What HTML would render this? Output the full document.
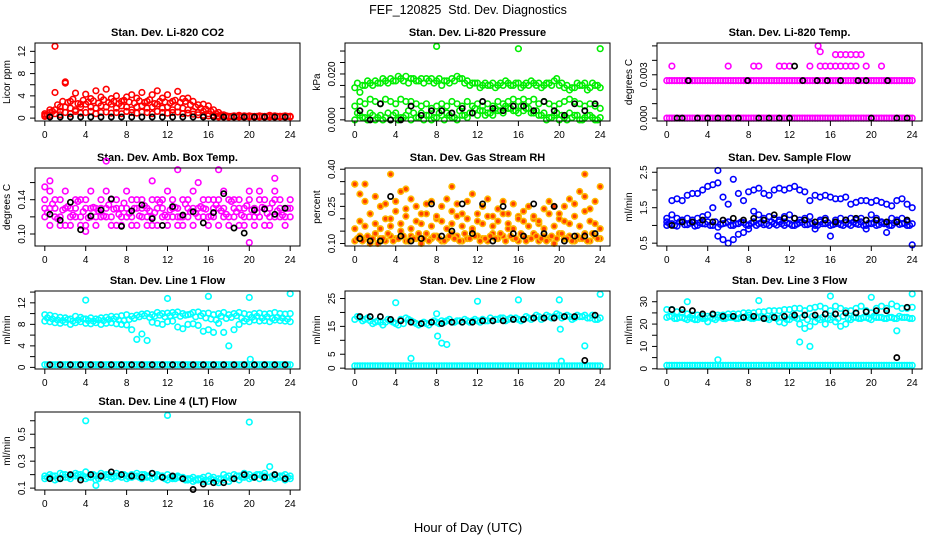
<!DOCTYPE html>
<html>
<head>
<meta charset="utf-8">
<style>
  html,body{margin:0;padding:0;background:#fff;}
  svg{display:block;font-family:"Liberation Sans",Arial,sans-serif;}
</style>
</head>
<body>
<svg id="chart" width="936" height="540" viewBox="0 0 936 540">
  <text x="468" y="14" text-anchor="middle" font-size="12.5">FEF_120825&#160; Std. Dev. Diagnostics</text>
  <text x="468" y="532" text-anchor="middle" font-size="13">Hour of Day (UTC)</text>
</svg>
<script>
// ---------- data ----------
const hours = [0,0.5,1,1.5,2,2.5,3,3.5,4,4.5,5,5.5,6,6.5,7,7.5,8,8.5,9,9.5,10,10.5,11,11.5,12,12.5,13,13.5,14,14.5,15,15.5,16,16.5,17,17.5,18,18.5,19,19.5,20,20.5,21,21.5,22,22.5,23,23.5,24];
const hoursB = [0.25,0.75,1.25,1.75,2.25,2.75,3.25,3.75,4.25,4.75,5.25,5.75,6.25,6.75,7.25,7.75,8.25,8.75,9.25,9.75,10.25,10.75,11.25,11.75,12.25,12.75,13.25,13.75,14.25,14.75,15.25,15.75,16.25,16.75,17.25,17.75,18.25,18.75,19.25,19.75,20.25,20.75,21.25,21.75,22.25,22.75,23.25,23.75];
const blackHours = [0.5,1.5,2.5,3.5,4.5,5.5,6.5,7.5,8.5,9.5,10.5,11.5,12.5,13.5,14.5,15.5,16.5,17.5,18.5,19.5,20.5,21.5,22.5,23.5];

// CO2
const co2A = [0.8,1.5,4.6,2,6.3,3,4.5,2.5,4.3,3.5,4.9,3.8,5.2,3.5,4,3,3.8,4.2,3.6,4.6,3,4.2,4.9,3.6,4.2,3,4.8,3.5,3.6,3,2.4,2.5,2.2,1.5,1,0.6,0.3,0.4,0.5,0.4,0.4,0.3,0.4,0.3,0.5,0.4,0.3,0.4,0.3];
const co2B = [0.5,1,1.5,1.2,2,1.8,1.5,2,2.5,2,1.8,2.2,2,2.5,1.8,2.2,2,1.5,2,2.2,1.8,2,2.5,1.8,2,1.5,2,1.8,1.5,1.2,1,1.2,0.8,0.5,0.4,0.3,0.2,0.3,0.3,0.2,0.3,0.2,0.3,0.2,0.3,0.2,0.3,0.2,0.3];
const co2C = [0.3,0.5,0.8,0.6,1,0.8,1.2,0.9,1,1.2,0.8,1,1.1,0.9,1,0.8,1.2,1,0.9,1.1,1,0.8,1.2,1,0.9,1,1.1,0.8,0.9,0.7,0.6,0.5,0.4,0.3,0.2,0.2,0.2,0.2,0.2,0.2,0.2,0.2,0.2,0.2,0.2,0.2,0.2,0.2,0.2];
const co2D = [0.6,1.2,2.4,3,2.8,3.4,2.6,3.2,2.9,3.1,2.7,3.3,2.8,3.0,2.6,3.2,2.9,2.7,3.1,2.8,3.3,2.6,3.0,2.9,2.7,3.2,2.8,3.0,2.4,2.0,1.8,1.6,1.2,0.8,0.6,0.4,0.3,0.3,0.3,0.3,0.3,0.3,0.3,0.3,0.3,0.3,0.3,0.3];
const co2OutH = [1,2];
const co2Out = [12.9,6.5];
const co2Black = [0.2,0.2,0.2,0.2,0.2,0.2,0.2,0.2,0.2,0.2,0.2,0.2,0.2,0.2,0.2,0.2,0.2,0.2,0.2,0.2,0.2,0.2,0.2,0.2];

// Pressure
const presA = [0.014,0.012,0.015,0.016,0.017,0.016,0.017,0.018,0.017,0.018,0.019,0.018,0.017,0.018,0.018,0.018,0.017,0.015,0.017,0.018,0.019,0.018,0.017,0.016,0.016,0.015,0.015,0.016,0.015,0.015,0.016,0.015,0.016,0.015,0.015,0.016,0.016,0.015,0.016,0.017,0.015,0.014,0.013,0.014,0.015,0.016,0.014,0.015,0.014];
const presB = [0.006,0.008,0.007,0.009,0.008,0.007,0.009,0.008,0.007,0.009,0.008,0.008,0.007,0.006,0.007,0.005,0.006,0.007,0.006,0.008,0.007,0.006,0.008,0.006,0.007,0.006,0.007,0.006,0.008,0.007,0.008,0.009,0.008,0.009,0.008,0.009,0.007,0.008,0.007,0.006,0.007,0.008,0.009,0.008,0.007,0.006,0.007,0.006,0.005];
const presC = [0.000,0.002,0.001,0.003,0.000,0.002,0.001,0.000,0.003,0.001,0.002,0.000,0.001,0.003,0.002,0.000,0.001,0.002,0.003,0.001,0.000,0.002,0.001,0.003,0.002,0.004,0.003,0.002,0.004,0.003,0.005,0.004,0.003,0.004,0.005,0.003,0.002,0.003,0.001,0.002,0.000,0.001,0.003,0.002,0.000,0.001,0.002,0.000,0.001];
const presD = [0.016,0.015,0.017,0.015,0.016,0.018,0.016,0.017,0.019,0.017,0.016,0.018,0.017,0.016,0.017,0.016,0.018,0.017,0.016,0.017,0.018,0.016,0.015,0.016,0.014,0.016,0.015,0.014,0.016,0.017,0.015,0.016,0.014,0.016,0.017,0.015,0.014,0.016,0.015,0.018,0.016,0.015,0.014,0.016,0.015,0.013,0.016,0.015];
const presE = [0.003,0.001,0.000,0.002,0.001,0.000,0.003,0.002,0.000,0.001,0.004,0.003,0.001,0.000,0.002,0.001,0.003,0.000,0.002,0.001,0.004,0.002,0.003,0.005,0.004,0.002,0.003,0.005,0.004,0.006,0.005,0.004,0.006,0.005,0.003,0.004,0.002,0.000,0.001,0.003,0.002,0.000,0.001,0.002,0.000,0.002,0.001,0.000];
const presOutH = [8,16,24];
const presOut = [0.032,0.031,0.031];
const presBlack = [0.004,0.000,0.007,0.000,0.000,0.006,0.002,0.004,0.004,0.003,0.005,0.003,0.008,0.005,0.004,0.006,0.006,0.004,0.008,0.004,0.002,0.007,0.004,0.007];

// Li-820 temp
const tempZero = [0,0,0,0,0,0,0,0,0,0,0,0,0,0,0,0,0,0,0,0,0,0,0,0,0,0,0,0,0,0,0,0,0,0,0,0,0,0,0,0,0,0,0,0,0,0,0,0,0];
const tempMid = [0.0026,0.0026,0.0026,0.0026,0.0026,0.0026,0.0026,0.0026,0.0026,0.0026,0.0026,0.0026,0.0026,0.0026,0.0026,0.0026,0.0026,0.0026,0.0026,0.0026,0.0026,0.0026,0.0026,0.0026,0.0026,0.0026,0.0026,0.0026,0.0026,0.0026,0.0026,0.0026,0.0026,0.0026,0.0026,0.0026,0.0026,0.0026,0.0026,0.0026,0.0026,0.0026,0.0026,0.0026,0.0026,0.0026,0.0026,0.0026,0.0026];
const tempHighH = [0.5,6,8.5,9,11,11.5,12,14,15,15.5,16,16.5,17,17.5,18,18.5,19.5,21,14.8,15,16.5,17,17.5,18,18.5,19];
const tempHigh = [0.0036,0.0036,0.0036,0.0036,0.0036,0.0036,0.0036,0.0036,0.0036,0.0036,0.0036,0.0036,0.0036,0.0036,0.0036,0.0036,0.0036,0.0036,0.0050,0.0046,0.0044,0.0044,0.0044,0.0044,0.0044,0.0044];
const tempBlackH = [1,1.5,2.1,3,4,5,6,7,7.9,9,10,11,12,12.5,13.3,14.7,15.7,17,18.7,19.5,20,21.6,22.5,23.5];
const tempBlack = [0,0,0.0026,0,0,0,0,0,0.0026,0,0,0,0,0.0036,0.0026,0.0026,0.0026,0.0026,0.0026,0.0026,0,0.0026,0,0];

// Amb box temp
const boxA = [0.13,0.15,0.12,0.14,0.11,0.13,0.14,0.12,0.13,0.15,0.11,0.13,0.12,0.14,0.13,0.11,0.15,0.12,0.14,0.13,0.12,0.14,0.11,0.13,0.15,0.12,0.13,0.14,0.12,0.13,0.16,0.12,0.14,0.13,0.11,0.15,0.12,0.14,0.13,0.12,0.15,0.11,0.14,0.13,0.12,0.15,0.13,0.12,0.14];
const boxB = [0.12,0.11,0.14,0.12,0.13,0.11,0.12,0.14,0.11,0.12,0.13,0.14,0.15,0.12,0.11,0.13,0.12,0.14,0.11,0.12,0.13,0.11,0.14,0.12,0.11,0.14,0.12,0.11,0.13,0.15,0.12,0.13,0.11,0.14,0.13,0.12,0.14,0.12,0.11,0.13,0.14,0.12,0.15,0.11,0.13,0.14,0.12,0.11,0.13];
const boxC = [0.14,0.13,0.13,0.11,0.15,0.12,0.13,0.11,0.14,0.13,0.12,0.12,0.13,0.11,0.14,0.12,0.13,0.11,0.13,0.14,0.11,0.12,0.13,0.14,0.12,0.13,0.11,0.12,0.14,0.11,0.13,0.14,0.12,0.12,0.14,0.13,0.11,0.13,0.14,0.11,0.12,0.13,0.12,0.14,0.11,0.12,0.14,0.13,0.12];
const boxD = [0.125,0.135,0.118,0.128,0.132,0.122,0.138,0.126,0.119,0.131,0.127,0.121,0.134,0.129,0.123,0.136,0.124,0.13,0.121,0.133,0.127,0.125,0.137,0.122,0.128,0.131,0.12,0.135,0.126,0.124,0.132,0.129,0.121,0.134,0.127,0.123,0.138,0.126,0.122,0.133,0.128,0.125,0.131,0.124,0.136,0.127,0.122,0.13];
const boxOutH = [0,0.5,6,10.5,13,20,22.5,17,4];
const boxOut = [0.155,0.162,0.185,0.162,0.175,0.09,0.165,0.175,0.103];
const boxBlack = [0.123,0.116,0.137,0.105,0.121,0.128,0.141,0.109,0.127,0.134,0.118,0.110,0.132,0.122,0.126,0.113,0.125,0.147,0.107,0.101,0.128,0.129,0.123,0.130];

// Gas stream RH
const rhA = [0.11,0.13,0.12,0.10,0.14,0.12,0.11,0.13,0.12,0.15,0.11,0.13,0.12,0.10,0.14,0.12,0.13,0.11,0.12,0.14,0.13,0.11,0.12,0.15,0.13,0.12,0.11,0.14,0.12,0.13,0.16,0.12,0.11,0.13,0.12,0.14,0.11,0.13,0.12,0.10,0.14,0.12,0.13,0.11,0.12,0.14,0.11,0.13,0.12];
const rhB = [0.34,0.30,0.27,0.22,0.29,0.25,0.26,0.20,0.27,0.31,0.24,0.28,0.25,0.22,0.26,0.27,0.21,0.25,0.28,0.23,0.26,0.22,0.27,0.30,0.19,0.25,0.28,0.21,0.24,0.27,0.22,0.26,0.20,0.23,0.25,0.21,0.19,0.24,0.27,0.25,0.22,0.25,0.28,0.26,0.31,0.29,0.24,0.27,0.33];
const rhC = [0.16,0.19,0.17,0.22,0.18,0.16,0.20,0.17,0.23,0.18,0.21,0.16,0.19,0.18,0.22,0.17,0.20,0.19,0.16,0.18,0.21,0.17,0.20,0.16,0.22,0.18,0.21,0.17,0.19,0.22,0.18,0.16,0.21,0.19,0.17,0.20,0.18,0.16,0.22,0.17,0.20,0.19,0.18,0.21,0.17,0.23,0.19,0.18,0.16];
const rhD = [0.12,0.11,0.13,0.12,0.10,0.12,0.14,0.11,0.12,0.13,0.11,0.12,0.14,0.12,0.11,0.13,0.12,0.11,0.13,0.12,0.11,0.14,0.12,0.13,0.11,0.12,0.13,0.12,0.14,0.11,0.13,0.12,0.14,0.11,0.12,0.13,0.12,0.11,0.13,0.12,0.14,0.12,0.11,0.13,0.12,0.11,0.14,0.12];
const rhOutH = [0,3.5,5,9.5,22.5,1];
const rhOut = [0.34,0.38,0.32,0.33,0.38,0.34];
const rhBlack = [0.12,0.11,0.11,0.29,0.13,0.11,0.12,0.26,0.13,0.15,0.26,0.14,0.26,0.11,0.25,0.14,0.13,0.26,0.14,0.25,0.11,0.13,0.13,0.14];

// Sample flow
const sfA = [1.0,1.05,0.98,1.1,1.02,1.08,1.0,1.05,1.1,1.0,0.95,1.05,1.1,1.0,1.05,1.08,1.0,1.1,1.05,1.02,1.0,1.05,1.1,1.0,1.05,1.0,1.08,1.02,1.05,1.0,1.1,1.05,1.0,1.05,1.02,1.08,1.0,1.05,1.1,1.0,1.05,1.0,1.08,1.05,1.0,1.1,1.05,1.0,1.05];
const sfB = [1.2,1.7,1.75,1.7,1.85,1.9,1.9,2.0,2.1,2.15,2.2,1.8,1.6,2.3,1.9,1.7,1.95,2.0,2.05,1.9,1.85,2.0,2.05,2.0,2.05,2.1,2.0,1.95,1.7,1.85,1.8,1.85,1.8,1.75,1.75,1.8,1.6,1.65,1.7,1.7,1.65,1.7,1.65,1.6,1.55,1.7,1.75,1.6,1.5];
const sfC = [1.1,1.3,1.2,1.15,1.2,1.15,1.2,1.25,1.3,1.5,0.7,0.6,0.5,0.6,0.75,0.8,0.9,1.4,1.3,1.2,1.25,1.2,1.15,1.25,1.3,1.2,1.15,1.2,1.25,0.9,1.15,1.2,0.7,1.15,1.2,1.15,1.2,1.15,1.2,0.9,1.3,1.2,1.1,0.8,1.2,1.15,1.2,1.1,0.45];
const sfD = [1.05,1.0,1.1,1.02,1.06,0.98,1.08,1.04,1.0,1.1,1.03,1.07,1.0,1.05,1.09,1.02,1.06,1.0,1.08,1.04,1.1,1.01,1.05,1.07,1.0,1.04,1.09,1.02,1.06,1.0,1.05,1.08,1.02,1.06,1.0,1.04,1.09,1.03,1.0,1.06,1.08,1.02,1.05,1.0,1.07,1.03,1.06,1.0];
const sfOutH = [5];
const sfOut = [2.55];
const sfBlack = [1.0,1.1,1.1,1.15,1.1,1.15,1.2,1.15,1.2,1.15,1.3,1.2,1.2,1.15,1.1,1.15,1.1,1.15,1.2,1.15,1.15,1.1,1.1,1.15];

// Line 1 flow
const l1A = [9.8,9.7,9.5,9.3,9.2,9.0,9.5,9.3,9.0,9.2,9.0,9.2,9.3,9.5,9.4,9.6,9.8,9.5,9.7,9.9,10,9.8,10.2,10,10.1,10.2,10.3,10,9.8,10.2,10.3,10,10.1,9.8,10,10.2,9.8,10,10.2,10,9.8,10,10.1,9.9,10,10.2,10,9.9,10];
const l1B = [8.6,8.5,8.3,8.2,8.4,8.0,8.3,8.5,8.2,8.1,8.3,8.0,8.2,8.3,8.1,8.0,7.9,7.0,5.2,6.2,5.0,8.4,8.2,8.0,8.5,8.6,7.5,7.2,8.0,8.1,7.8,6.7,7.0,6.5,8.2,6.5,4.0,7.0,8.0,8.6,8.5,8.8,8.6,8.7,8.5,8.8,8.7,8.6,8.5];
const l1C = [0.5,0.5,0.5,0.5,0.5,0.5,0.5,0.5,0.5,0.5,0.5,0.5,0.5,0.5,0.5,0.5,0.5,0.5,0.5,0.5,0.5,0.5,0.5,0.5,0.5,0.5,0.5,0.5,0.5,0.5,0.5,0.5,0.5,0.5,0.5,0.5,0.5,0.5,0.5,0.5,0.5,0.5,0.5,0.5,0.5,0.5,0.5,0.5,0.5];
const l1D = [9.2,9.0,8.8,8.7,8.9,8.6,8.8,9.0,8.7,8.6,8.8,8.7,8.9,9.0,8.8,8.7,8.9,9.1,9.4,9.6,9.3,9.5,9.7,9.4,9.6,9.8,9.5,9.7,9.9,9.4,9.6,9.2,9.0,8.8,9.5,9.1,9.3,9.6,9.2,9.0,9.3,9.5,9.2,9.4,9.1,9.3,9.2,9.0];
const l1OutH = [4,12,16,20,20.1,24];
const l1Out = [12.5,12.8,13.2,13,1.5,13.7];
const l1Black = [0.5,0.5,0.5,0.5,0.5,0.5,0.5,0.5,0.5,0.5,0.5,0.5,0.5,0.5,0.5,0.5,0.5,0.5,0.5,0.5,0.5,0.5,0.5,0.5];

// Line 2 flow
const l2A = [17.5,18,17.5,17,16.5,16.5,16.5,17,16,17.5,18,17,16,16,16,16.5,16.5,17,17,16.5,17,16.5,17,17,17,17.5,17,17,17.5,18,17.5,17.5,17.5,17.5,18,18,18.5,18,18.5,18.5,19,18.5,18.5,18,18.5,19,18,17.5,18];
const l2D = [18.5,17,18,16,17,15.5,17.5,16.5,15.5,16,17.5,16.5,15.5,16.5,15.5,17,16,16.5,17.5,16.5,17,17.5,16.5,17.5,16.5,17,18,17.5,18,17,18,18,17,18.5,17.5,19,17.5,19,18,19.5,18,19,17.5,19,18.5,18,19,17.5];
const l2C = [0.8,0.8,0.8,0.8,0.8,0.8,0.8,0.8,0.8,0.8,0.8,0.8,0.8,0.8,0.8,0.8,0.8,0.8,0.8,0.8,0.8,0.8,0.8,0.8,0.8,0.8,0.8,0.8,0.8,0.8,0.8,0.8,0.8,0.8,0.8,0.8,0.8,0.8,0.8,0.8,0.8,0.8,0.8,0.8,0.8,0.8,0.8,0.8,0.8];
const l2OutH = [4,5.5,8,8.1,8.5,9,12,16,20,20.1,20.2,22.5,24];
const l2Out = [23.5,3.5,19.5,11.5,9,8.5,24,24.5,24.5,14,2.5,8,26.5];
const l2Black = [18.5,18.5,18.5,17.5,17,16.5,16,16.5,16,16.5,16.5,16.5,17,17,17,17.5,17.5,18,18,18,18.5,18.5,2.8,19];

// Line 3 flow
const l3A = [23,23.5,22.5,23,22,22.5,22,22.5,21,22.5,23,22.5,23,23,22.5,23,23,22.5,23,22.5,22,23,21,20.5,22,23,20,18,19,21,22,20,22,21,19,20,22,23,22.5,23,22,23,23,22.5,23,22.5,23,23,22.5];
const l3B = [26.5,26.5,25.5,25,24.5,24,24,23.5,23.5,24,24,24,24.5,24.5,24.5,25,25,25,25.5,25.5,26,26,26,26.5,26.5,27,27,26,27,27.5,28,27,26,28,27,26,26,27,28,26,25,27,28,27,29,28,27,27,27.5];
const l3D = [23.5,22.5,23,22.5,23,22,23,22.5,23,22,23.5,22.5,23,22.5,23,23.5,22.5,23,23.5,22.5,23,22.5,23,22,23.5,22.5,23,22,23.5,22.5,23,22.5,23,22.5,23.5,22.5,23,22.5,23,22.5,23.5,23,22.5,23,22.5,23.5,23,22.5];
const l3C = [1.5,1.5,1.5,1.5,1.5,1.5,1.5,1.5,1.5,1.5,1.5,1.5,1.5,1.5,1.5,1.5,1.5,1.5,1.5,1.5,1.5,1.5,1.5,1.5,1.5,1.5,1.5,1.5,1.5,1.5,1.5,1.5,1.5,1.5,1.5,1.5,1.5,1.5,1.5,1.5,1.5,1.5,1.5,1.5,1.5,1.5,1.5,1.5,1.5];
const l3OutH = [2,5,8,9,13,14,16,20,22.5,24];
const l3Out = [30,4,24,30.5,12,10,32.5,32,17,33.5];
const l3Black = [26.5,26.5,26,24.5,24.5,23.5,23.5,23,23.5,22.5,23,23.5,24,24,24,24.5,24.5,25,25,25.5,26,26,5,27.5];

// Line 4 flow
const l4A = [0.17,0.18,0.16,0.17,0.18,0.17,0.19,0.18,0.17,0.18,0.16,0.19,0.18,0.17,0.19,0.18,0.17,0.18,0.19,0.17,0.18,0.17,0.19,0.18,0.16,0.17,0.18,0.17,0.16,0.15,0.16,0.15,0.15,0.16,0.14,0.16,0.15,0.17,0.16,0.18,0.17,0.18,0.17,0.19,0.18,0.17,0.18,0.16,0.17];
const l4B = [0.19,0.2,0.19,0.21,0.2,0.19,0.21,0.2,0.22,0.2,0.19,0.21,0.2,0.19,0.21,0.2,0.19,0.2,0.21,0.2,0.19,0.21,0.2,0.19,0.2,0.18,0.19,0.18,0.17,0.18,0.17,0.18,0.19,0.18,0.17,0.2,0.19,0.2,0.19,0.21,0.2,0.19,0.2,0.21,0.26,0.2,0.19,0.2,0.19];
const l4D = [0.18,0.19,0.17,0.2,0.18,0.19,0.2,0.19,0.18,0.2,0.17,0.19,0.2,0.18,0.19,0.2,0.18,0.19,0.18,0.2,0.19,0.18,0.19,0.17,0.18,0.17,0.18,0.16,0.17,0.16,0.17,0.16,0.17,0.15,0.17,0.18,0.17,0.19,0.18,0.19,0.18,0.2,0.19,0.18,0.19,0.18,0.19,0.18];
const l4OutH = [4,12,20,5];
const l4Out = [0.6,0.64,0.59,0.12];
const l4Black = [0.17,0.17,0.2,0.16,0.2,0.19,0.22,0.2,0.19,0.18,0.21,0.18,0.19,0.17,0.09,0.13,0.14,0.14,0.17,0.2,0.18,0.18,0.2,0.17];

// tick labels
const xTicks = [0,4,8,12,16,20,24];
const xTickLabels = ["0","4","8","12","16","20","24"];

// ---------- layout ----------
const NS = "http://www.w3.org/2000/svg";
const svg = document.getElementById('chart');
const colLeft = [35, 345, 657];
const rowTop = [43, 168, 291, 412];
const boxW = 265, boxH = 78;
const xMin = -0.96, xMax = 24.96;

function mk(tag, attrs, parent) {
  const e = document.createElementNS(NS, tag);
  for (const k in attrs) e.setAttribute(k, attrs[k]);
  (parent || svg).appendChild(e);
  return e;
}

const panels = [
  {name:'co2', col:0,row:0,title:'Stan. Dev. Li-820 CO2',ylab:'Licor ppm',ymin:-0.52,ymax:13.5,
   ticks:[0,2,4,6,8,10,12],labels:{0:'0',4:'4',8:'8',12:'12'},
   series:[[hours,co2B,'#ff0000'],[hours,co2C,'#ff0000'],[hoursB,co2D,'#ff0000'],[hours,co2A,'#ff0000'],[co2OutH,co2Out,'#ff0000'],[blackHours,co2Black,'#000']]},
  {name:'pressure', col:1,row:0,title:'Stan. Dev. Li-820 Pressure',ylab:'kPa',ymin:-0.0005,ymax:0.0335,
   ticks:[0,0.005,0.01,0.015,0.02,0.025,0.03],labels:{0:'0.000',0.02:'0.020'},
   series:[[hours,presA,'#00ee00'],[hoursB,presD,'#00ee00'],[hours,presB,'#00ee00'],[hours,presC,'#00ee00'],[hoursB,presE,'#00ee00'],[presOutH,presOut,'#00ee00'],[blackHours,presBlack,'#000']]},
  {name:'li820-temp', col:2,row:0,title:'Stan. Dev. Li-820 Temp.',ylab:'degrees C',ymin:-0.0002,ymax:0.0052,
   ticks:[0,0.001,0.002,0.003,0.004,0.005],labels:{0:'0.000',0.003:'0.003'},
   series:[[hours,tempZero,'#ff00ff'],[hoursB,tempZero,'#ff00ff'],[hours,tempMid,'#ff00ff'],[hoursB,tempMid,'#ff00ff'],[tempHighH,tempHigh,'#ff00ff'],[tempBlackH,tempBlack,'#000']]},
  {name:'box-temp', col:0,row:1,title:'Stan. Dev. Amb. Box Temp.',ylab:'degrees C',ymin:0.086,ymax:0.177,
   ticks:[0.10,0.12,0.14,0.16],labels:{0.10:'0.10',0.14:'0.14'},
   series:[[hours,boxA,'#ff00ff'],[hours,boxB,'#ff00ff'],[hours,boxC,'#ff00ff'],[hoursB,boxD,'#ff00ff'],[boxOutH,boxOut,'#ff00ff'],[blackHours,boxBlack,'#000']]},
  {name:'gas-rh', col:1,row:1,title:'Stan. Dev. Gas Stream RH',ylab:'percent',ymin:0.09,ymax:0.405,
   ticks:[0.10,0.15,0.20,0.25,0.30,0.35,0.40],labels:{0.10:'0.10',0.25:'0.25',0.40:'0.40'},
   series:[[hours,rhA,'#ffb800'],[hoursB,rhD,'#ffb800'],[hours,rhC,'#ffb800'],[hours,rhB,'#ffb800'],[rhOutH,rhOut,'#ffb800'],[blackHours,rhBlack,'#000']]},
  {name:'sample-flow', col:2,row:1,title:'Stan. Dev. Sample Flow',ylab:'ml/min',ymin:0.42,ymax:2.62,
   ticks:[0.5,1.0,1.5,2.0,2.5],labels:{0.5:'0.5',1.5:'1.5',2.5:'2.5'},
   series:[[hours,sfA,'#0000ff'],[hoursB,sfD,'#0000ff'],[hours,sfB,'#0000ff'],[hours,sfC,'#0000ff'],[sfOutH,sfOut,'#0000ff'],[blackHours,sfBlack,'#000']]},
  {name:'line1-flow', col:0,row:2,title:'Stan. Dev. Line 1 Flow',ylab:'ml/min',ymin:-0.3,ymax:14.2,
   ticks:[0,2,4,6,8,10,12,14],labels:{0:'0',4:'4',8:'8',12:'12'},
   series:[[hours,l1A,'#00ffff'],[hours,l1B,'#00ffff'],[hoursB,l1D,'#00ffff'],[hours,l1C,'#00ffff'],[hoursB,l1C,'#00ffff'],[l1OutH,l1Out,'#00ffff'],[blackHours,l1Black,'#000']]},
  {name:'line2-flow', col:1,row:2,title:'Stan. Dev. Line 2 Flow',ylab:'ml/min',ymin:-0.3,ymax:27.7,
   ticks:[0,5,10,15,20,25],labels:{0:'0',5:'5',15:'15',25:'25'},
   series:[[hours,l2A,'#00ffff'],[hoursB,l2D,'#00ffff'],[hours,l2C,'#00ffff'],[hoursB,l2C,'#00ffff'],[l2OutH,l2Out,'#00ffff'],[blackHours,l2Black,'#000']]},
  {name:'line3-flow', col:2,row:2,title:'Stan. Dev. Line 3 Flow',ylab:'ml/min',ymin:-0.1,ymax:34.8,
   ticks:[0,5,10,15,20,25,30],labels:{0:'0',10:'10',20:'20',30:'30'},
   series:[[hours,l3A,'#00ffff'],[hoursB,l3D,'#00ffff'],[hours,l3B,'#00ffff'],[hours,l3C,'#00ffff'],[hoursB,l3C,'#00ffff'],[l3OutH,l3Out,'#00ffff'],[blackHours,l3Black,'#000']]},
  {name:'line4-flow', col:0,row:3,title:'Stan. Dev. Line 4 (LT) Flow',ylab:'ml/min',ymin:0.086,ymax:0.665,
   ticks:[0.1,0.2,0.3,0.4,0.5,0.6],labels:{0.1:'0.1',0.3:'0.3',0.5:'0.5'},
   series:[[hours,l4A,'#00ffff'],[hoursB,l4D,'#00ffff'],[hours,l4B,'#00ffff'],[l4OutH,l4Out,'#00ffff'],[blackHours,l4Black,'#000']]}
];

panels.forEach(p => {
  const L = colLeft[p.col], T = rowTop[p.row], B = T + boxH;
  const xs = v => L + (v - xMin) / (xMax - xMin) * boxW;
  const ys = v => B - (v - p.ymin) / (p.ymax - p.ymin) * boxH;
  const g = mk('g', {});
  
  

  const t = mk('text', {x: L + boxW/2, y: T - 7, 'text-anchor':'middle', 'font-size':'11', 'font-weight':'bold'}, g);
  t.textContent = p.title;
  
  

  const pts = mk('g', {fill:'none'}, g);
  
  
  p.series.forEach(s => {
    const hx = s[0], vy = s[1], col = s[2];
    const n = Math.min(hx.length, vy.length);
    for (let i = 0; i < n; i++) {
      const black = col === '#000';
      const c = mk('circle', {cx: xs(hx[i]).toFixed(1), cy: ys(vy[i]).toFixed(1), r: black ? 2.6 : 2.8, stroke: col,
        fill: col === '#ffb800' ? '#ff4000' : 'none', 'stroke-width': black ? 1.7 : 1.6}, pts);
      
      
    }
  });

  const box = mk('rect', {x: L, y: T, width: boxW, height: boxH, fill:'none', stroke:'#000', 'stroke-width':'1'}, g);
  
  

  const xa = mk('g', {}, g);
  
  
  mk('line', {x1: xs(0), x2: xs(24), y1: B, y2: B, stroke:'#000'}, xa);
  xTicks.forEach((v, i) => {
    mk('line', {x1: xs(v), x2: xs(v), y1: B, y2: B + 5, stroke:'#000'}, xa);
    const tl = mk('text', {x: xs(v), y: B + 17, 'text-anchor':'middle', 'font-size':'10'}, xa);
    tl.textContent = xTickLabels[i];
    
    
  });

  const ya = mk('g', {}, g);
  
  
  p.ticks.forEach(v => {
    mk('line', {x1: L - 5, x2: L, y1: ys(v), y2: ys(v), stroke:'#000'}, ya);
    const key = Object.keys(p.labels).find(k => Math.abs(parseFloat(k) - v) < 1e-9);
    if (key !== undefined) {
      const yy = ys(v);
      const tl = mk('text', {x: L - 10, y: yy, 'text-anchor':'middle', 'font-size':'10',
        transform: 'rotate(-90 ' + (L - 10) + ' ' + yy + ')'}, ya);
      tl.textContent = p.labels[key];
      
      
    }
  });
  const yl = mk('text', {x: L - 25, y: T + boxH/2, 'text-anchor':'middle', 'font-size':'10',
    transform: 'rotate(-90 ' + (L - 25) + ' ' + (T + boxH/2) + ')'}, ya);
  yl.textContent = p.ylab;
  
  
});
</script>
</body>
</html>
